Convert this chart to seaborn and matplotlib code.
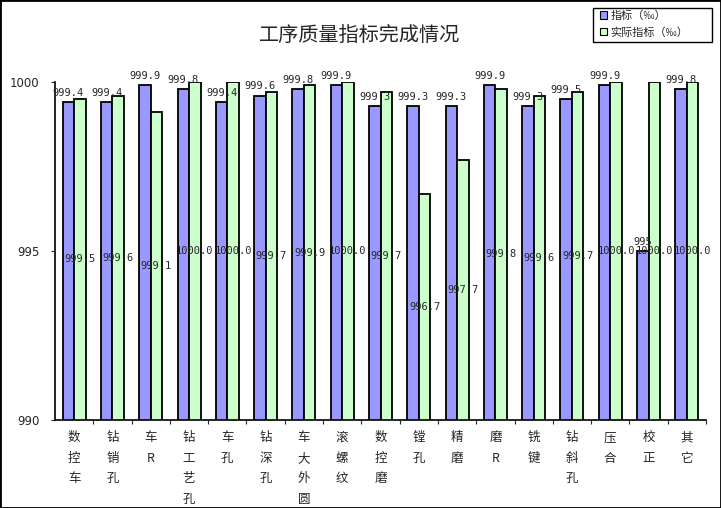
import matplotlib
matplotlib.use("Agg")
import matplotlib.pyplot as plt
from matplotlib.patches import Patch, Rectangle
import seaborn as sns
import pandas as pd

categories = ["数控车", "钻销孔", "车R", "钻工艺孔", "车孔", "钻深孔", "车大外圆", "滚螺纹",
              "数控磨", "镗孔", "精磨", "磨R", "铣键", "钻斜孔", "压合", "校正", "其它"]
target = [999.4, 999.4, 999.9, 999.8, 999.4, 999.6, 999.8, 999.9,
          999.3, 999.3, 999.3, 999.9, 999.3, 999.5, 999.9, 995.0, 999.8]
actual = [999.5, 999.6, 999.1, 1000.0, 1000.0, 999.7, 999.9, 1000.0,
          999.7, 996.7, 997.7, 999.8, 999.6, 999.7, 1000.0, 1000.0, 1000.0]
target_labels = ["999.4", "999.4", "999.9", "999.8", "999.4", "999.6", "999.8", "999.9",
                 "999.3", "999.3", "999.3", "999.9", "999.3", "999.5", "999.9", "995", "999.8"]
actual_labels = ["999.5", "999.6", "999.1", "1000.0", "1000.0", "999.7", "999.9", "1000.0",
                 "999.7", "996.7", "997.7", "999.8", "999.6", "999.7", "1000.0", "1000.0", "1000.0"]
series = ["指标（‰）", "实际指标（‰）"]
yticks = [990, 995, 1000]
title = "工序质量指标完成情况"

sns.set_theme(style="white")
plt.rcParams['font.family'] = ['Noto Sans CJK SC', 'DejaVu Sans']

df = pd.DataFrame({
    "cat": categories * 2,
    "val": target + actual,
    "series": [series[0]] * len(categories) + [series[1]] * len(categories),
})

colors = ["#9999FF", "#CCFFCC"]
W, H = 721, 508
fig = plt.figure(figsize=(W / 100, H / 100), dpi=100)
ax = fig.add_axes([55 / W, 88 / H, 651 / W, 338 / H])
sns.barplot(data=df, x="cat", y="val", hue="series", palette=colors, width=0.6,
            edgecolor="black", linewidth=1.3, saturation=1, ax=ax, legend=False)

ax.set_ylim(990, 1000)
ax.set_xlim(-0.5, len(categories) - 0.5)
ax.set_yticks(yticks)
ax.set_yticklabels([str(v) for v in yticks], fontsize=8.5, family="DejaVu Sans")
ax.set_xticks(range(len(categories)))
ax.set_xticklabels(["\n".join(c) for c in categories], fontsize=9, linespacing=1.75, va="top")
ax.tick_params(axis="x", length=0, pad=8)
ax.set_xticks([i + 0.5 for i in range(len(categories))], minor=True)
ax.tick_params(axis="x", which="minor", length=3, direction="out", width=0.8, bottom=True)
ax.tick_params(axis="y", length=3, direction="out", width=0.8, left=True, pad=8)
ax.set_xlabel("")
ax.set_ylabel("")
for s in ["top", "right"]:
    ax.spines[s].set_visible(False)
for s in ["left", "bottom"]:
    ax.spines[s].set_color("black")
    ax.spines[s].set_linewidth(1.2)

blue_bars = ax.containers[0]
green_bars = ax.containers[1]
for bar, lab, v in zip(blue_bars, target_labels, target):
    ax.text(bar.get_x() + bar.get_width() / 2, v + 0.12, lab, ha="center", va="bottom",
            fontsize=7.5, family="DejaVu Sans Mono", clip_on=False)
for bar, lab, v in zip(green_bars, actual_labels, actual):
    ax.text(bar.get_x() + bar.get_width() / 2, (990 + v) / 2, lab, ha="center", va="center",
            fontsize=7.5, family="DejaVu Sans Mono")

fig.text(360 / W, 1 - 35 / H, title, ha="center", va="center", fontsize=14.5)

# legend frame
fig.patches.append(Rectangle((593 / W, 1 - 42 / H), 119 / W, 34 / H, transform=fig.transFigure,
                             fill=False, edgecolor="black", linewidth=1))
handles = [Patch(facecolor=colors[0], edgecolor="black", linewidth=0.8),
           Patch(facecolor=colors[1], edgecolor="black", linewidth=0.8)]
leg = fig.legend(handles, series, loc="upper left", bbox_to_anchor=(597 / W, 1 - 7 / H),
                 fontsize=8, frameon=False, handlelength=0.6, handleheight=0.6,
                 handletextpad=0.3, borderpad=0.3, labelspacing=0.55, borderaxespad=0)

fig.patches.append(Rectangle((0, 0), 1, 1, transform=fig.transFigure, fill=False,
                             edgecolor="black", linewidth=2))
fig.savefig("out.png", dpi=100)
